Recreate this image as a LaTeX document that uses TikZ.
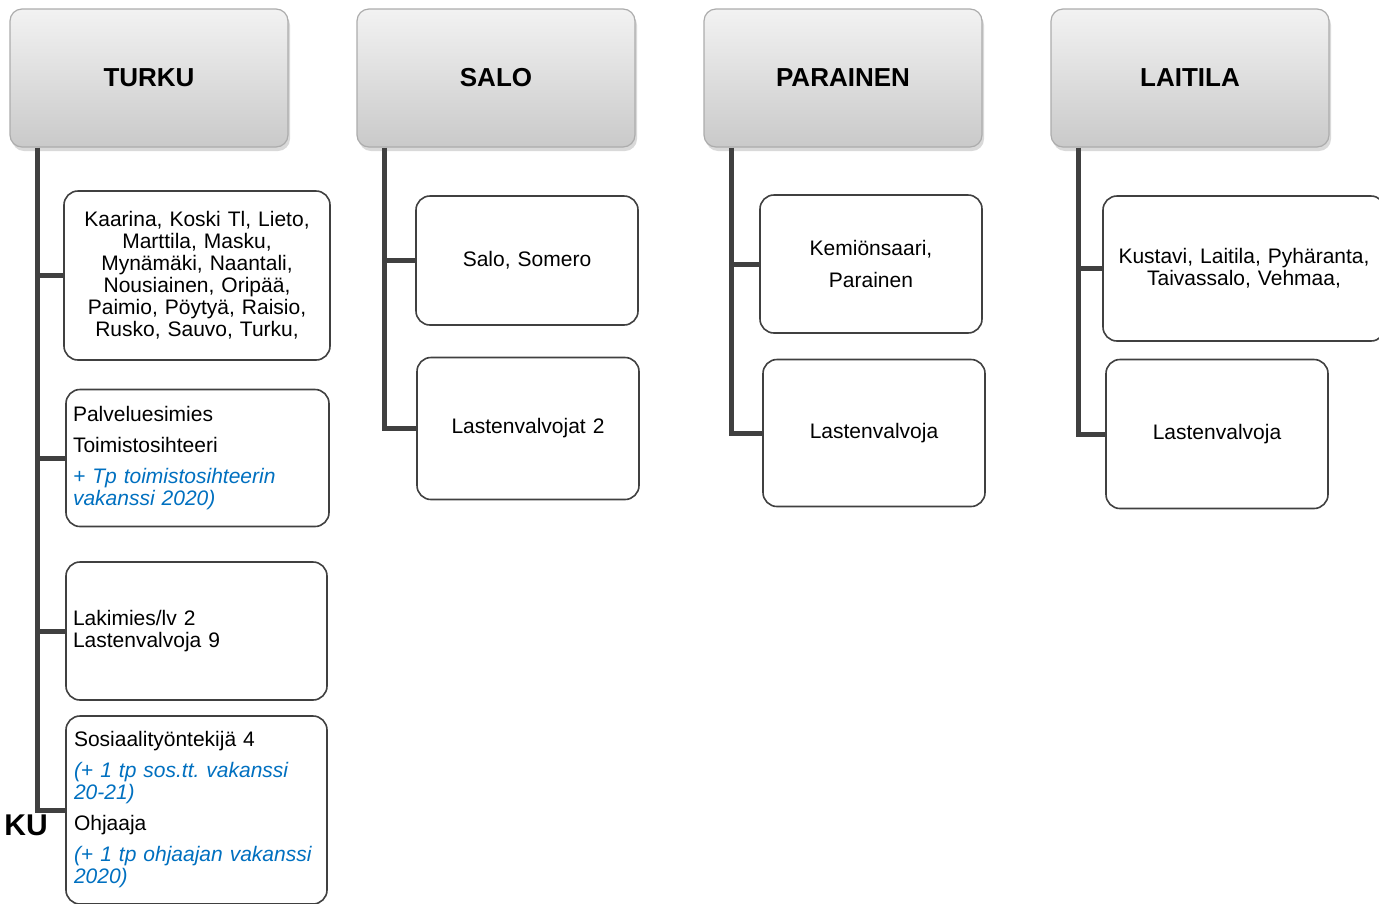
\documentclass[tikz,border=0pt]{standalone}
\usepackage{fontspec}
\setmainfont{Liberation Sans}
\usetikzlibrary{shadows}
\definecolor{linegray}{HTML}{404040}
\definecolor{vakblue}{HTML}{0070C0}
\newcommand{\vak}[1]{{\color{vakblue}\itshape #1}}
\frenchspacing
\tikzset{
  headbox/.style={draw=gray!65, line width=1.2pt, rounded corners=12pt,
    top color=gray!10, bottom color=gray!42, minimum width=278pt, minimum height=138pt,
    font=\fontsize{26}{30}\selectfont\bfseries,
    drop shadow={opacity=0.3, shadow xshift=2pt, shadow yshift=-4pt}},
  unitbox/.style={draw=linegray, line width=1.6pt, rounded corners=14pt, fill=white,
    inner xsep=7pt, inner ysep=4pt, font=\fontsize{21}{22}\selectfont\frenchspacing},
  conn/.style={draw=linegray, line width=5pt}
}
\begin{document}
\begin{tikzpicture}[x=1pt,y=-1pt]
\useasboundingbox (0,0) rectangle (1379,903);

% ylaotsikot
\node[headbox] (turku) at (149,78) {TURKU};
\node[headbox] (salo) at (496,78) {SALO};
\node[headbox] (parainen) at (843,78) {PARAINEN};
\node[headbox] (laitila) at (1190,78) {LAITILA};

% Turku
\node[unitbox, minimum height=169pt, text width=252pt, align=center] (t1) at (197,275.5)
  {Kaarina, Koski Tl, Lieto,\\Marttila, Masku,\\Myn\"am\"aki, Naantali,\\Nousiainen, Orip\"a\"a,\\Paimio, P\"oyty\"a, Raisio,\\Rusko, Sauvo, Turku,};
\node[unitbox, minimum height=137pt, text width=249pt, align=left] (t2) at (197.5,458)
  {Palveluesimies\\[9pt]Toimistosihteeri\\[9pt]\vak{+ Tp toimistosihteerin}\\\vak{vakanssi 2020)}};
\node[unitbox, minimum height=138pt, text width=247pt, align=left] (t3) at (196.5,631)
  {Lakimies/lv 2\\Lastenvalvoja 9};
\node[unitbox, minimum height=188pt, text width=245pt, inner xsep=8pt, align=left] (t4) at (196.5,810)
  {Sosiaality\"ontekij\"a 4\\[9pt]\vak{(+ 1 tp sos.tt. vakanssi}\\\vak{20-21)}\\[9pt]Ohjaaja\\[9pt]\vak{(+ 1 tp ohjaajan vakanssi}\\\vak{2020)}};
\node[font=\fontsize{30}{34}\selectfont\bfseries, anchor=base east, inner sep=0pt] (turkucut) at (48,835) {KU};

% Salo
\node[unitbox, minimum height=129pt, text width=208pt, align=center] (s1) at (527,260.5) {Salo, Somero};
\node[unitbox, minimum height=142pt, text width=208pt, align=center] (s2) at (528,428.5) {Lastenvalvojat 2};

% Parainen
\node[unitbox, minimum height=138pt, text width=208pt, align=center] (p1) at (871,264) {Kemi\"onsaari,\\[10pt]Parainen};
\node[unitbox, minimum height=147pt, text width=208pt, align=center] (p2) at (874,433) {Lastenvalvoja};

% Laitila
\node[unitbox, minimum height=145pt, text width=268pt, align=center] (l1) at (1244,268.5) {Kustavi, Laitila, Pyh\"aranta,\\Taivassalo, Vehmaa,};
\node[unitbox, minimum height=149pt, text width=208pt, align=center] (l2) at (1217,434) {Lastenvalvoja};

% yhdysviivat
\coordinate (tstem) at ([xshift=28pt]turku.south west);
\coordinate (sstem) at ([xshift=28pt]salo.south west);
\coordinate (pstem) at ([xshift=28pt]parainen.south west);
\coordinate (lstem) at ([xshift=28pt]laitila.south west);
\draw[conn] (tstem) |- (t4.west);
\foreach \b in {t1,t2,t3}
  \draw[conn] (tstem |- \b.west) -- (\b.west);
\draw[conn] (sstem) |- (s2.west);
\draw[conn] (sstem |- s1.west) -- (s1.west);
\draw[conn] (pstem) |- (p2.west);
\draw[conn] (pstem |- p1.west) -- (p1.west);
\draw[conn] (lstem) |- (l2.west);
\draw[conn] (lstem |- l1.west) -- (l1.west);
\end{tikzpicture}
\end{document}
